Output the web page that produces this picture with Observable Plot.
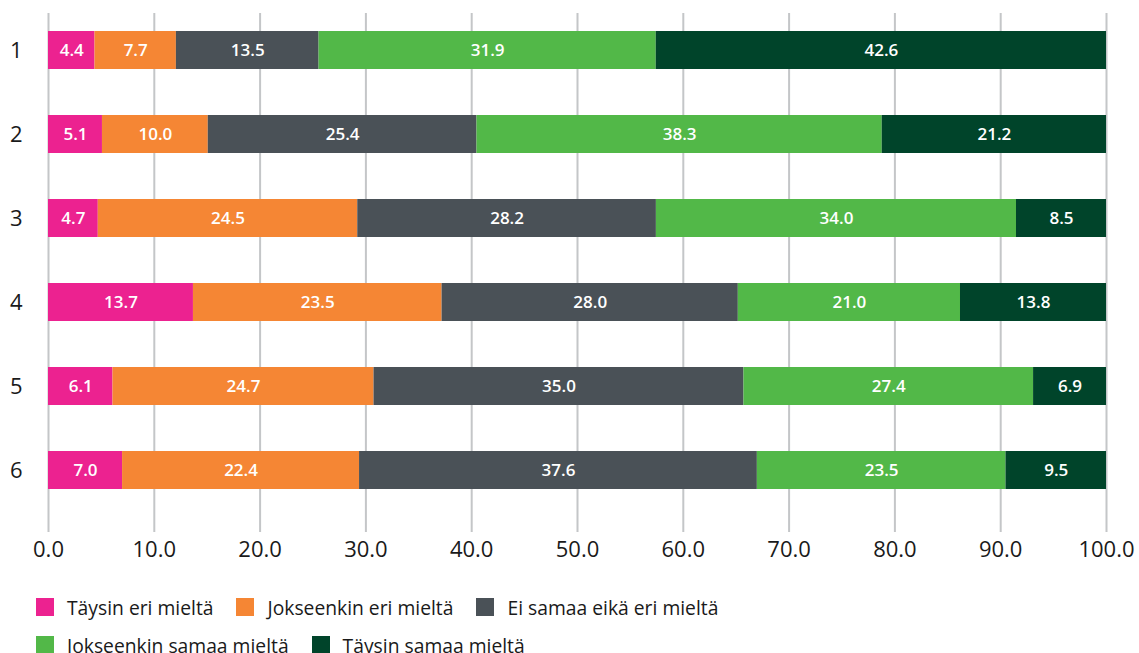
<!DOCTYPE html>
<html>
<head>
<meta charset="utf-8">
<script src="https://cdn.jsdelivr.net/npm/d3@7"></script>
<script src="https://cdn.jsdelivr.net/npm/@observablehq/plot@0.6"></script>
<style>
  html, body { margin: 0; padding: 0; background: #fff; }
  #legend { font-family: "Open Sans", sans-serif; font-size: 19.3px; color: #1a1a1a;
            display: flex; flex-wrap: wrap; width: 760px; padding-left: 36px; margin-top: 18px; }
  .item { display: flex; align-items: center; height: 38px; margin-right: 23px; }
  .sw { width: 18px; height: 18px; margin-right: 13px; }
</style>
</head>
<body>
<div id="chart"></div>
<div id="legend"></div>
<script>
const questions = ["1", "2", "3", "4", "5", "6"];
const series = ["Täysin eri mieltä", "Jokseenkin eri mieltä", "Ei samaa eikä eri mieltä", "Jokseenkin samaa mieltä", "Täysin samaa mieltä"];
const colors = ["#ec2290", "#f58634", "#4a5157", "#52b848", "#00442a"];
const tayEri   = [4.4, 5.1, 4.7, 13.7, 6.1, 7.0];
const jokEri   = [7.7, 10.0, 24.5, 23.5, 24.7, 22.4];
const eiSamaa  = [13.5, 25.4, 28.2, 28.0, 35.0, 37.6];
const jokSamaa = [31.9, 38.3, 34.0, 21.0, 27.4, 23.5];
const taySamaa = [42.6, 21.2, 8.5, 13.8, 6.9, 9.5];
const xTicks = [0, 10, 20, 30, 40, 50, 60, 70, 80, 90, 100];

const seriesValues = [tayEri, jokEri, eiSamaa, jokSamaa, taySamaa];
const data = [];
series.forEach((s, si) => questions.forEach((q, qi) => data.push({q, s, value: seriesValues[si][qi]})));

const font = "Open Sans, sans-serif";
const stackOpts = {offset: "normalize", order: null};

const plot = Plot.plot({
  width: 1139,
  height: 570,
  marginLeft: 48,
  marginRight: 33,
  marginTop: 13,
  marginBottom: 38,
  style: {fontFamily: font, background: "#fff"},
  x: {domain: [0, 1], label: null},
  y: {domain: questions, label: null, paddingInner: 0.549, paddingOuter: 0.356, align: 0.3},
  color: {domain: series, range: colors},
  marks: [
    Plot.ruleX(xTicks.map(t => t / 100), {stroke: "#c4c6c8", strokeWidth: 2}),
    Plot.barX(data, Plot.stackX(stackOpts, {x: "value", y: "q", fill: "s", z: "s"})),
    Plot.text(data, Plot.stackX(stackOpts, {x: "value", y: "q", z: "s", text: d => d.value.toFixed(1), fill: "white", fontWeight: 600, fontSize: 17})),
    Plot.axisX({ticks: xTicks.map(t => t / 100), tickFormat: d => (d * 100).toFixed(1), tickSize: 0, tickPadding: 9, fontSize: 22, fill: "#1a1a1a", label: null}),
    Plot.axisY({tickSize: 0, tickPadding: 26, fontSize: 22, fill: "#1a1a1a", label: null})
  ]
});
document.getElementById("chart").appendChild(plot);

const legend = document.getElementById("legend");
series.forEach((s, i) => {
  const it = document.createElement("div");
  it.className = "item";
  const sw = document.createElement("div");
  sw.className = "sw";
  sw.style.background = colors[i];
  const t = document.createElement("span");
  t.textContent = s;
  it.appendChild(sw);
  it.appendChild(t);
  legend.appendChild(it);
});
</script>
</body>
</html>
